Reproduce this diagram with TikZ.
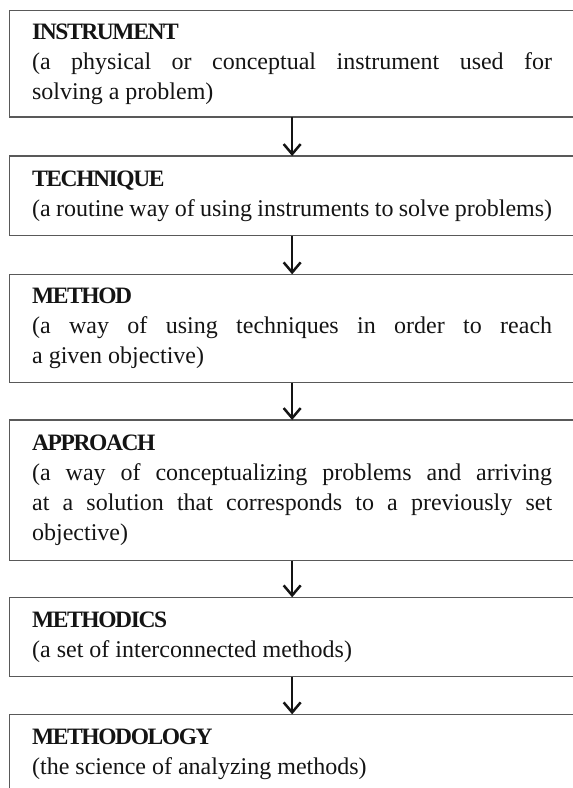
\documentclass[tikz,border=0pt]{standalone}
\usepackage{fontspec}
\setmainfont{Liberation Serif}
\usetikzlibrary{arrows.meta}

% bold, tightly set heading of a stage box
\newcommand{\stagehead}[1]{{\fontsize{23.5}{30}\bfseries\addfontfeatures{LetterSpace=-6}#1}}

\begin{document}
\begin{tikzpicture}[x=1pt,y=1pt,
  stagebox/.style={rectangle, draw=black!65, line width=1.3pt, outer sep=0pt,
    anchor=north west, text width=520pt, inner xsep=22.85pt, inner ysep=0pt,
    align=justify, text=black!92,
    font=\fontsize{24}{30}\selectfont},
  flow/.style={draw=black!92, line width=2.5pt,
    -{Straight Barb[length=10pt,width=17pt,line width=2.5pt]}}]
\useasboundingbox (0,0) rectangle (573,-788);

\node[stagebox, minimum height=106.3pt] (instrument) at (9.3,-10.7)
  {\stagehead{INSTRUMENT}\\
   (a physical or conceptual instrument used for\linebreak
   solving a problem)};

\node[stagebox, minimum height=79.7pt] (technique) at (9.3,-156)
  {\stagehead{TECHNIQUE}\\
   \hbox to 520pt{(a routine way of using instruments to solve problems)}};

\node[stagebox, minimum height=108.4pt] (method) at (9.3,-274.3)
  {\stagehead{METHOD}\\
   (a way of using techniques in order to reach\linebreak
   a given objective)};

\node[stagebox, minimum height=140.7pt] (approach) at (9.3,-420)
  {\stagehead{APPROACH}\\
   (a way of conceptualizing problems and arriving\linebreak
   at a solution that corresponds to a previously set\linebreak
   objective)};

\node[stagebox, minimum height=79.4pt] (methodics) at (9.3,-597.3)
  {\stagehead{METHODICS}\\
   (a set of interconnected methods)};

\node[stagebox, minimum height=79.4pt] (methodology) at (9.3,-714.3)
  {\stagehead{METHODOLOGY}\\
   (the science of analyzing methods)};

\draw[flow] (instrument.south) -- (technique.north);
\draw[flow] (technique.south) -- (method.north);
\draw[flow] (method.south) -- (approach.north);
\draw[flow] (approach.south) -- (methodics.north);
\draw[flow] (methodics.south) -- (methodology.north);
\end{tikzpicture}
\end{document}
